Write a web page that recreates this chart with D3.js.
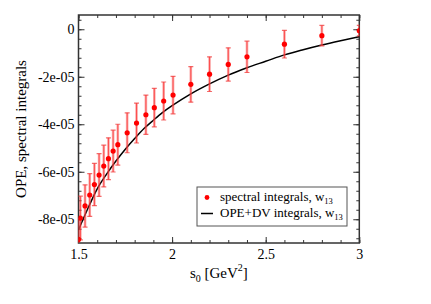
<!DOCTYPE html>
<html>
<head>
<meta charset="utf-8">
<script src="https://cdn.jsdelivr.net/npm/d3@7"></script>
<style>
  body { margin: 0; background: #fff; }
  svg text { font-family: "Liberation Serif", "DejaVu Serif", serif; }
</style>
</head>
<body>
<svg id="chart" width="431" height="304"></svg>
<script>
// spectral integrals (points with errors) and OPE+DV curve, values in units of 1e-5
const s0 = [1.5, 1.51, 1.535, 1.56, 1.585, 1.61, 1.635, 1.66, 1.685, 1.71, 1.76, 1.81, 1.86,
  1.905, 1.955, 2.005, 2.1, 2.2, 2.3, 2.4, 2.6, 2.8, 3.0];
const spectral = [-8.85, -7.95, -7.44, -6.98, -6.54, -6.14, -5.76, -5.45, -5.13, -4.86, -4.36, -3.95, -3.6,
  -3.3, -3.02, -2.77, -2.32, -1.89, -1.48, -1.16, -0.63, -0.27, -0.06];
const spectralErr = [0.9, 0.92, 0.89, 0.9, 0.89, 0.9, 0.88, 0.88, 0.88, 0.86, 0.84, 0.84, 0.83,
  0.81, 0.8, 0.79, 0.75, 0.73, 0.7, 0.66, 0.58, 0.43, 0.22];

const curveS0 = [1.5, 1.55, 1.6, 1.65, 1.7, 1.75, 1.8, 1.85, 1.9, 1.95, 2.0, 2.1, 2.2, 2.3, 2.4, 2.5, 2.6, 2.7, 2.8, 2.9, 3.0];
const curveVal = [-8.45, -7.55, -6.72, -6.1, -5.55, -5.05, -4.6, -4.18, -3.83, -3.5, -3.22, -2.72, -2.3, -1.93, -1.62, -1.35, -1.08, -0.86, -0.66, -0.48, -0.31];

const xTicks = [1.5, 2, 2.5, 3];
const xTickLabels = ['1.5', '2', '2.5', '3'];
const yTicks = [-8e-5, -6e-5, -4e-5, -2e-5, 0];
const yTickLabels = ['-8e-05', '-6e-05', '-4e-05', '-2e-05', '0'];

const svg = d3.select('#chart');
const pLeft = 78.5, pRight = 359.3, pTop = 15, pBottom = 243;

const x = d3.scaleLinear().domain([1.5, 3]).range([pLeft, pRight]);
const y = d3.scaleLinear().domain([-9e-5, 0.6e-5]).range([pBottom, pTop]);

svg.append('defs').append('clipPath').attr('id', 'clip')
  .append('rect').attr('x', pLeft).attr('y', pTop)
  .attr('width', pRight - pLeft).attr('height', pBottom - pTop);

// ticks, pointing inward on all four sides
const xMinor = d3.range(1.5, 3.001, 0.1);
const yMinor = d3.range(-8.8e-5, 0.5e-5, 0.4e-5);
const fmtX = (d, i) => xTickLabels[i];
const fmtY = (d, i) => yTickLabels[i];

function tickAxis(axis, scale, values, size) {
  return axis(scale).tickValues(values).tickSizeInner(size).tickSizeOuter(0).tickFormat('');
}

const gx = svg.append('g').attr('transform', `translate(0,${pBottom})`);
gx.call(tickAxis(d3.axisTop, x, xMinor, 3));
gx.call(g => g.append('g').call(tickAxis(d3.axisTop, x, xTicks, 6)));
const gxLab = svg.append('g').attr('transform', `translate(0,${pBottom})`);
gxLab.call(d3.axisBottom(x).tickValues(xTicks).tickSize(0).tickPadding(6).tickFormat(fmtX));

const gt = svg.append('g').attr('transform', `translate(0,${pTop})`);
gt.call(tickAxis(d3.axisBottom, x, xMinor, 3));
gt.call(g => g.append('g').call(tickAxis(d3.axisBottom, x, xTicks, 6)));

const gy = svg.append('g').attr('transform', `translate(${pLeft},0)`);
gy.call(tickAxis(d3.axisRight, y, yMinor, 3));
gy.call(g => g.append('g').call(tickAxis(d3.axisRight, y, yTicks, 6)));
const gyLab = svg.append('g').attr('transform', `translate(${pLeft},0)`);
gyLab.call(d3.axisLeft(y).tickValues(yTicks).tickSize(0).tickPadding(4).tickFormat(fmtY));

const gr = svg.append('g').attr('transform', `translate(${pRight},0)`);
gr.call(tickAxis(d3.axisLeft, y, yMinor, 3));
gr.call(g => g.append('g').call(tickAxis(d3.axisLeft, y, yTicks, 6)));

svg.selectAll('.domain').remove();
svg.selectAll('.tick line').attr('stroke', '#333').attr('stroke-width', 1);
svg.selectAll('.tick text')
  .style('font-size', '14px').style('font-family', '"Liberation Serif", serif')
  .attr('fill', '#000');

// frame
svg.append('rect').attr('x', pLeft).attr('y', pTop)
  .attr('width', pRight - pLeft).attr('height', pBottom - pTop)
  .attr('fill', 'none').attr('stroke', '#333').attr('stroke-width', 1.5);

// data
const plot = svg.append('g').attr('clip-path', 'url(#clip)');

const line = d3.line()
  .x((d, i) => x(curveS0[i]))
  .y(d => y(d * 1e-5))
  .curve(d3.curveMonotoneX);
plot.append('path').datum(curveVal)
  .attr('d', line).attr('fill', 'none')
  .attr('stroke', '#000').attr('stroke-width', 1.5);

const pts = s0.map((s, i) => ({ s, v: spectral[i] * 1e-5, e: spectralErr[i] * 1e-5 }));
const eb = plot.append('g').selectAll('g').data(pts).join('g');
eb.append('line')
  .attr('x1', d => x(d.s)).attr('x2', d => x(d.s))
  .attr('y1', d => y(d.v - d.e)).attr('y2', d => y(d.v + d.e))
  .attr('stroke', 'rgba(245,90,90,0.5)').attr('stroke-width', 2.6);
eb.append('line')
  .attr('x1', d => x(d.s)).attr('x2', d => x(d.s))
  .attr('y1', d => y(d.v - d.e)).attr('y2', d => y(d.v + d.e))
  .attr('stroke', '#f22').attr('stroke-width', 0.7);
[-1, 1].forEach(sgn => {
  eb.append('line')
    .attr('x1', d => x(d.s) - 2.5).attr('x2', d => x(d.s) + 2.5)
    .attr('y1', d => y(d.v + sgn * d.e)).attr('y2', d => y(d.v + sgn * d.e))
    .attr('stroke', 'rgba(240,60,60,0.75)').attr('stroke-width', 1.2);
});
plot.append('g').selectAll('circle').data(pts).join('circle')
  .attr('cx', d => x(d.s)).attr('cy', d => y(d.v)).attr('r', 2.6)
  .attr('fill', '#f00');

// axis titles
svg.append('text')
  .attr('transform', `translate(26,${(pTop + pBottom) / 2}) rotate(-90)`)
  .attr('text-anchor', 'middle').attr('font-size', 15)
  .text('OPE, spectral integrals');

const xt = svg.append('text').attr('x', (pLeft + pRight) / 2).attr('y', 278)
  .attr('text-anchor', 'middle').attr('font-size', 15);
xt.append('tspan').text('s');
xt.append('tspan').attr('font-size', 10).attr('dy', 4).text('0');
xt.append('tspan').attr('dy', -4).text(' [GeV');
xt.append('tspan').attr('font-size', 10).attr('dy', -7).text('2');
xt.append('tspan').attr('dy', 7).text(']');

// legend
const lg = svg.append('g');
lg.append('rect').attr('x', 197).attr('y', 187).attr('width', 150).attr('height', 39)
  .attr('fill', '#fff').attr('stroke', '#555').attr('stroke-width', 1);
lg.append('circle').attr('cx', 207).attr('cy', 197.5).attr('r', 2.4).attr('fill', '#f00');
lg.append('line').attr('x1', 201).attr('x2', 213).attr('y1', 213.5).attr('y2', 213.5)
  .attr('stroke', '#000').attr('stroke-width', 1.5);
const legendLabels = ['spectral integrals, w', 'OPE+DV integrals, w'];
const legendSubs = ['13', '13'];
legendLabels.forEach((t, i) => {
  const tx = lg.append('text').attr('x', 220).attr('y', 201 + i * 16).attr('font-size', 13);
  tx.append('tspan').text(t);
  tx.append('tspan').attr('font-size', 8.5).attr('dy', 3).text(legendSubs[i]);
});
</script>
</body>
</html>
